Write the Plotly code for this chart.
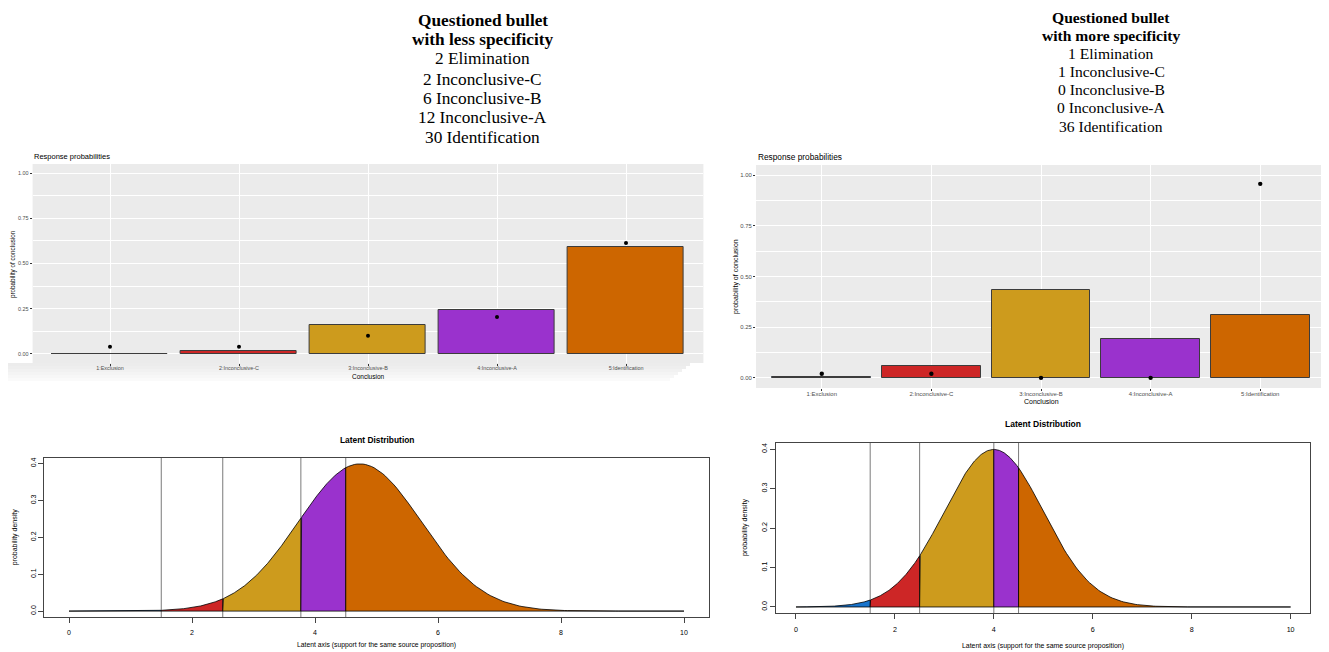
import numpy as np
import plotly.graph_objects as go

W, H = 1329, 652          # target picture size
OFF = 8                   # page body margin of the html page
FW, FH = W - OFF, H - OFF # figure size so that it ends at the window edge

# ---------------- data ----------------
categories = ["1:Exclusion", "2:Inconclusive-C", "3:Inconclusive-B",
              "4:Inconclusive-A", "5:Identification"]
cat_pos = [0, 1, 2, 3, 4]

# left ("less specificity") response probabilities
less_model = [0.001, 0.015, 0.160, 0.245, 0.589]
less_observed = [0.040, 0.040, 0.101, 0.204, 0.613]
# right ("more specificity") response probabilities
more_model = [0.006, 0.061, 0.433, 0.191, 0.309]
more_observed = [0.020, 0.020, 0.0, 0.0, 0.957]

class_colors = ["#1874CD", "#CD2626", "#CD9B1D", "#9A32CD", "#CD6600"]

prob_ticks = [0.0, 0.25, 0.50, 0.75, 1.00]
prob_ticktext = ["0.00", "0.25", "0.50", "0.75", "1.00"]
prob_minor = [0.125, 0.375, 0.625, 0.875]

header_less = ["Questioned bullet", "with less specificity", "2 Elimination",
               "2 Inconclusive-C", "6 Inconclusive-B", "12 Inconclusive-A",
               "30 Identification"]
header_more = ["Questioned bullet", "with more specificity", "1 Elimination",
               "1 Inconclusive-C", "0 Inconclusive-B", "0 Inconclusive-A",
               "36 Identification"]

# latent normal distributions (mean, sd) and thresholds
latent_range = [0, 10]
latent_xticks = [0, 2, 4, 6, 8, 10]
latent_yticks = [0.0, 0.1, 0.2, 0.3, 0.4]
latent_yticktext = ["0.0", "0.1", "0.2", "0.3", "0.4"]
less_mu, less_sd = 4.73, 1.0
less_cuts = [1.5, 2.5, 3.77, 4.5]
more_mu, more_sd = 4.0, 1.0
more_cuts = [1.5, 2.5, 4.0, 4.5]


# ---------------- helpers ----------------
def fx(x):
    return (x - OFF) / FW


def fy(y):
    return 1 - (y - OFF) / FH


def pdf(x, mu, sd):
    return np.exp(-0.5 * ((x - mu) / sd) ** 2) / (sd * np.sqrt(2 * np.pi))


SANS = "Liberation Sans, Arial, sans-serif"
SERIF = "Liberation Serif, Times New Roman, serif"

annotations = []


def ann(text, x, y, size, color="black", bold=False, angle=0,
        xanchor="center", yanchor="middle", family=SANS):
    if bold:
        text = "<b>" + text + "</b>"
    annotations.append(dict(text=text, x=fx(x), y=fy(y), xref="paper", yref="paper",
                            showarrow=False, xanchor=xanchor, yanchor=yanchor,
                            textangle=angle, font=dict(size=size, color=color, family=family)))


fig = go.Figure()
shapes = []

# ---------------- top panels (ggplot style) ----------------
panels = [
    dict(ax="", model=less_model, obs=less_observed,
         xd=(32.6, 703.4), yd=(164, 363), s=1.0),
    dict(ax="2", model=more_model, obs=more_observed,
         xd=(756, 1326), yd=(165, 388), s=1.1),
]

layout_axes = {}
for p in panels:
    ax = p["ax"]
    xname, yname = "x" + ax, "y" + ax
    s = p["s"]
    fig.add_trace(go.Bar(x=cat_pos, y=p["model"], width=0.9,
                         marker=dict(color=class_colors, line=dict(color="#3c3c3c", width=1)),
                         xaxis=xname, yaxis=yname, showlegend=False, hoverinfo="skip"))
    fig.add_trace(go.Scatter(x=cat_pos, y=p["obs"], mode="markers",
                             marker=dict(color="black", size=4 * s),
                             xaxis=xname, yaxis=yname, showlegend=False, hoverinfo="skip"))
    layout_axes["xaxis" + ax] = dict(
        domain=[fx(p["xd"][0]), fx(p["xd"][1])], range=[-0.6, 4.6], anchor=yname,
        tickvals=cat_pos, ticktext=categories, showgrid=True, gridcolor="white",
        gridwidth=1, zeroline=False, showline=False, ticks="outside", ticklen=2,
        tickcolor="#333333", tickwidth=0.6, ticklabelstandoff=-2,
        tickfont=dict(size=5.4 * s, color="#4D4D4D", family=SANS), fixedrange=True)
    layout_axes["yaxis" + ax] = dict(
        domain=[fy(p["yd"][1]), fy(p["yd"][0])], range=[-0.05, 1.05], anchor=xname,
        tickvals=prob_ticks, ticktext=prob_ticktext, showgrid=True, gridcolor="white",
        gridwidth=1, zeroline=False, showline=False, ticks="outside", ticklen=2,
        tickcolor="#333333", tickwidth=0.6,
        minor=dict(tickvals=prob_minor, showgrid=True, gridcolor="white", gridwidth=0.5, ticks=""),
        tickfont=dict(size=5.4 * s, color="#4D4D4D", family=SANS), fixedrange=True)
    shapes.append(dict(type="rect", xref=xname + " domain", yref=yname + " domain",
                       x0=0, x1=1, y0=0, y1=1, fillcolor="#EBEBEB",
                       line=dict(width=0), layer="below"))

# screenshot artefact under the left panel (soft grey band)
band_cols = ["#ececec", "#eeeeee", "#f1f1f1", "#f4f4f4", "#f7f7f7", "#fafafa"]
for i, c in enumerate(band_cols):
    shapes.append(dict(type="rect", xref="paper", yref="paper",
                       x0=fx(7), x1=fx(690 - i * 4), y0=fy(363 + 3 * (i + 1)), y1=fy(363 + 3 * i),
                       fillcolor=c, line=dict(width=0), layer="below"))

# ggplot text
ann("Response probabilities", 32, 157, 7.5, xanchor="left")
ann("probability of conclusion", 13, 264, 6.3, angle=-90)
ann("Conclusion", 368, 376, 6.5)
ann("Response probabilities", 756, 157, 8.3, xanchor="left")
ann("probability of conclusion", 736, 277, 7.0, angle=-90)
ann("Conclusion", 1041, 401, 7.0)

# ---------------- bottom panels (base R style) ----------------
latent = [
    dict(ax="3", mu=less_mu, sd=less_sd, cuts=less_cuts,
         xd=(44.4, 708.6), yd=(457.6, 617.0), title_y=440, xlab_y=645, ylab_x=15, s=1.0),
    dict(ax="4", mu=more_mu, sd=more_sd, cuts=more_cuts,
         xd=(776.2, 1310.4), yd=(442.7, 613.3), title_y=424, xlab_y=646, ylab_x=745, s=1.02),
]
for L in latent:
    ax = L["ax"]
    xname, yname = "x" + ax, "y" + ax
    bounds = [latent_range[0]] + L["cuts"] + [latent_range[1]]
    for i in range(5):
        a, b = bounds[i], bounds[i + 1]
        xs = np.linspace(a, b, 120)
        ys = pdf(xs, L["mu"], L["sd"])
        fig.add_trace(go.Scatter(x=np.concatenate([[a], xs, [b, a]]),
                                 y=np.concatenate([[0], ys, [0, 0]]),
                                 mode="lines", fill="toself", fillcolor=class_colors[i],
                                 line=dict(color="black", width=0.8),
                                 xaxis=xname, yaxis=yname, showlegend=False, hoverinfo="skip"))
    for c in L["cuts"]:
        shapes.append(dict(type="line", xref=xname, yref=yname + " domain",
                           x0=c, x1=c, y0=0, y1=1, line=dict(color="#7a7a7a", width=1),
                           layer="below"))
    s = L["s"]
    layout_axes["xaxis" + ax] = dict(
        domain=[fx(L["xd"][0]), fx(L["xd"][1])], range=[-0.4, 10.4], anchor=yname,
        tickvals=latent_xticks, showgrid=False, zeroline=False, showline=True, mirror=True,
        linecolor="#444444", linewidth=1, ticks="outside", ticklen=5, tickcolor="#444444",
        tickwidth=1, ticklabelstandoff=4,
        tickfont=dict(size=7 * s, color="black", family=SANS), fixedrange=True)
    layout_axes["yaxis" + ax] = dict(
        domain=[fy(L["yd"][1]), fy(L["yd"][0])], range=[-0.016, 0.416], anchor=xname,
        tickvals=latent_yticks, ticktext=latent_yticktext, tickangle=-90,
        showgrid=False, zeroline=False, showline=True, mirror=True,
        linecolor="#444444", linewidth=1, ticks="outside", ticklen=5, tickcolor="#444444",
        tickwidth=1, tickfont=dict(size=7 * s, color="black", family=SANS), fixedrange=True)
    cx = (L["xd"][0] + L["xd"][1]) / 2
    cy = (L["yd"][0] + L["yd"][1]) / 2
    ann("Latent Distribution", cx, L["title_y"], 8.4 * s, bold=True)
    ann("Latent axis (support for the same source proposition)", cx, L["xlab_y"], 6.8 * s)
    ann("probability density", L["ylab_x"], cy, 7.0 * s, angle=-90)

# ---------------- headers ----------------
ys_less = [20, 40, 59, 79, 99, 118, 137]
for t, y, i in zip(header_less, ys_less, range(7)):
    ann(t, 483, y, 17.3, bold=(i < 2), family=SERIF)
ys_more = [18, 36, 54, 72, 90, 108, 127]
for t, y, i in zip(header_more, ys_more, range(7)):
    ann(t, 1111, y, 15.6, bold=(i < 2), family=SERIF)

fig.update_layout(width=FW, height=FH, margin=dict(l=0, r=0, t=0, b=0),
                  paper_bgcolor="white", plot_bgcolor="white",
                  shapes=shapes, annotations=annotations, bargap=0,
                  font=dict(family=SANS), **layout_axes)

fig.write_html("out.html")
